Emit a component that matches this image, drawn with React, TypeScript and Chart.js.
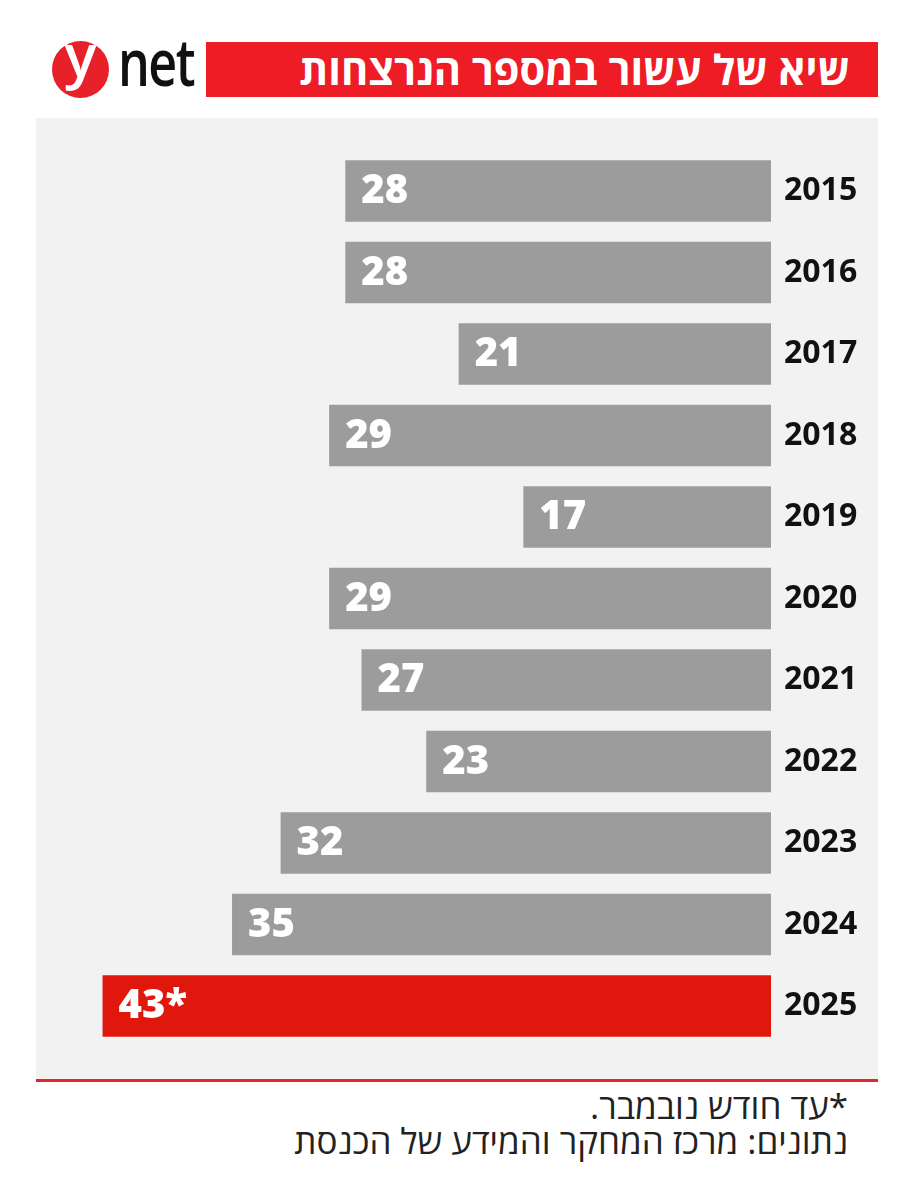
import React, { useEffect, useRef } from "react";
import { Chart, registerables } from "chart.js";

Chart.register(...registerables);

const years = ["2015", "2016", "2017", "2018", "2019", "2020", "2021", "2022", "2023", "2024", "2025"];
const murders = [28, 28, 21, 29, 17, 29, 27, 23, 32, 35, 43];
const valueLabels = ["28", "28", "21", "29", "17", "29", "27", "23", "32", "35", "43*"];
const barColors = [
  "#9c9c9c", "#9c9c9c", "#9c9c9c", "#9c9c9c", "#9c9c9c", "#9c9c9c",
  "#9c9c9c", "#9c9c9c", "#9c9c9c", "#9c9c9c", "#e0170d",
];
const title = "שיא של עשור במספר הנרצחות";
const footnote1 = "*עד חודש נובמבר.";
const footnote2 = "נתונים: מרכז המחקר והמידע של הכנסת";

const FONT = "'Open Sans', 'Noto Sans', 'DejaVu Sans', sans-serif";

const valuePlugin = {
  id: "valueLabels",
  afterDatasetsDraw(chart: any) {
    const ctx = chart.ctx;
    const meta = chart.getDatasetMeta(0);
    ctx.save();
    ctx.fillStyle = "#ffffff";
    ctx.font = `800 40px ${FONT}`;
    ctx.textAlign = "left";
    ctx.textBaseline = "middle";
    meta.data.forEach((el: any, i: number) => {
      const left = Math.min(el.x, el.base);
      ctx.fillText(valueLabels[i], left + 16, el.y + 1);
    });
    ctx.restore();
  },
};

export default function App() {
  const canvasRef = useRef<HTMLCanvasElement | null>(null);

  useEffect(() => {
    document.body.style.margin = "0";
    const canvas = canvasRef.current;
    if (!canvas) return;
    const chart = new Chart(canvas, {
      type: "bar",
      data: {
        labels: years,
        datasets: [
          {
            data: murders,
            backgroundColor: barColors,
            borderWidth: 0,
            barPercentage: 0.756,
            categoryPercentage: 1,
          },
        ],
      },
      options: {
        indexAxis: "y",
        animation: false,
        responsive: false,
        maintainAspectRatio: false,
        layout: { padding: { left: 18, right: 0, top: 28, bottom: 29 } },
        plugins: {
          legend: { display: false },
          tooltip: { enabled: false },
        },
        scales: {
          x: {
            type: "linear",
            min: 1.7,
            max: 46,
            reverse: true,
            display: false,
          },
          y: {
            position: "right",
            grid: { display: false, drawTicks: false },
            border: { display: false },
            ticks: {
              padding: 13,
              color: "#111111",
              font: { family: FONT, size: 32, weight: "bold" },
            },
            afterFit(scale: any) {
              scale.width = 107;
            },
          },
        },
      },
      plugins: [valuePlugin],
    });
    return () => chart.destroy();
  }, []);

  return (
    <div
      style={{
        position: "absolute",
        left: 0,
        top: 0,
        width: 915,
        height: 1200,
        background: "#ffffff",
        fontFamily: FONT,
        overflow: "hidden",
      }}
    >
      {/* logo */}
      <div
        style={{
          position: "absolute",
          left: 52,
          top: 41,
          width: 57,
          height: 57,
          borderRadius: "50%",
          background: "#e8202a",
        }}
      />
      <div
        style={{
          position: "absolute",
          left: 52,
          top: 22,
          width: 57,
          textAlign: "center",
          color: "#ffffff",
          fontSize: 60,
          fontWeight: 600,
          lineHeight: "64px",
        }}
      >
        y
      </div>
      <div
        style={{
          position: "absolute",
          left: 118,
          top: 20,
          color: "#111111",
          fontSize: 66,
          fontWeight: 600,
          lineHeight: "80px",
          letterSpacing: -2,
          transform: "scaleX(0.76)",
          transformOrigin: "left top",
        }}
      >
        net
      </div>
      {/* title banner */}
      <div
        style={{
          position: "absolute",
          left: 206,
          top: 42,
          width: 672,
          height: 55,
          background: "#ee1c25",
        }}
      />
      <div
        dir="rtl"
        style={{
          position: "absolute",
          right: 915 - 850,
          top: 42,
          height: 55,
          lineHeight: "55px",
          color: "#ffffff",
          fontSize: 41.5,
          fontWeight: 700,
          whiteSpace: "nowrap",
        }}
      >
        {title}
      </div>
      {/* panel */}
      <div
        style={{
          position: "absolute",
          left: 36,
          top: 118,
          width: 842,
          height: 961,
          background: "#f2f2f2",
        }}
      />
      <canvas
        ref={canvasRef}
        width={842}
        height={961}
        style={{ position: "absolute", left: 36, top: 118, width: 842, height: 961 }}
      />
      <div
        style={{
          position: "absolute",
          left: 36,
          top: 1079,
          width: 842,
          height: 3,
          background: "#e2262d",
        }}
      />
      {/* footnotes */}
      <div
        dir="rtl"
        style={{
          position: "absolute",
          right: 915 - 848,
          top: 1088,
          color: "#222222",
          fontSize: 35,
          fontWeight: 400,
          lineHeight: "35px",
          whiteSpace: "nowrap",
          textAlign: "right",
        }}
      >
        <div>{footnote1}</div>
        <div>{footnote2}</div>
      </div>
    </div>
  );
}
